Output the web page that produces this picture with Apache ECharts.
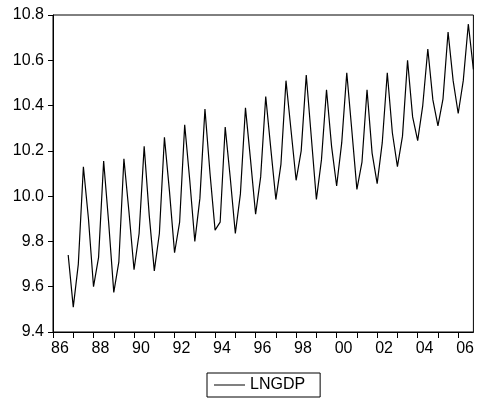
<!DOCTYPE html>
<html>
<head>
	<title>LNGDP</title>
	<meta charset="utf-8" />
	<script type="text/javascript" src="https://cdn.jsdelivr.net/npm/echarts@6/dist/echarts.min.js"></script>
	<style type="text/css">
		html, body{
			margin: 0;
			padding: 0;
			background-color: #fff;
		}
		#container{
			width: 477px;
			height: 405px;
		}
	</style>
</head>
<body>
<div id="container"></div>
</body>

<script type="text/javascript">
	// 季度: 1986Q1 .. 2006Q4, 数据从 1986Q4 开始
	var years = [1986, 1987, 1988, 1989, 1990, 1991, 1992, 1993, 1994, 1995, 1996,
		1997, 1998, 1999, 2000, 2001, 2002, 2003, 2004, 2005, 2006];
	var firstObs = 3;		// 1986Q4

	var lngdp = [
		9.74,
		9.51, 9.70, 10.13, 9.90,
		9.60, 9.73, 10.155, 9.88,
		9.575, 9.71, 10.165, 9.93,
		9.675, 9.835, 10.22, 9.915,
		9.67, 9.835, 10.26, 10.02,
		9.75, 9.885, 10.315, 10.07,
		9.80, 9.99, 10.385, 10.10,
		9.85, 9.885, 10.305, 10.08,
		9.835, 10.01, 10.39, 10.16,
		9.92, 10.085, 10.44, 10.21,
		9.985, 10.14, 10.51, 10.29,
		10.07, 10.20, 10.535, 10.26,
		9.985, 10.16, 10.47, 10.22,
		10.045, 10.235, 10.545, 10.29,
		10.03, 10.15, 10.47, 10.19,
		10.055, 10.235, 10.545, 10.28,
		10.13, 10.265, 10.60, 10.35,
		10.245, 10.40, 10.65, 10.425,
		10.31, 10.43, 10.725, 10.51,
		10.365, 10.51, 10.76, 10.56
	];

	var quarters = [];
	for(var i = 0 ; i < years.length ; i++){
		for(var q = 1 ; q <= 4 ; q++){
			quarters.push(years[i] + 'Q' + q);
		}
	}

	var seriesData = [];
	for(var j = 0 ; j < quarters.length ; j++){
		var k = j - firstObs;
		seriesData.push(k >= 0 && k < lngdp.length ? lngdp[k] : '-');
	}

	var font = 'Liberation Sans, Arial, sans-serif';

	var chart = echarts.init(document.getElementById("container"));

	var options = {
		backgroundColor:'#fff',
		animation:false,

		grid:{
			left:53,
			top:15,
			right:2,
			bottom:73,
			show:true,
			borderColor:'#000',
			borderWidth:1
		},

		legend:{
			data:['LNGDP'],
			left:207,
			top:373,
			padding:[4, 15, 4, 7],
			borderColor:'#000',
			borderWidth:1,
			icon:'rect',
			itemWidth:31,
			itemHeight:1,
			itemStyle:{color:'#000'},
			textStyle:{
				color:'#000',
				fontSize:16,
				fontFamily:font
			}
		},

		xAxis:{
			type:'category',
			data:quarters,
			boundaryGap:false,
			axisLine:{lineStyle:{color:'#000', width:1}},
			axisTick:{
				length:6,
				lineStyle:{color:'#000'},
				interval:function(idx){ return idx % 4 === 0; }
			},
			axisLabel:{
				color:'#000',
				fontSize:16,
				fontFamily:font,
				align:'left',
				margin:9,
				padding:[0, 0, 0, -2],
				interval:function(idx){ return idx % 8 === 0; },
				formatter:function(v){ return v.substr(2, 2); }
			},
			splitLine:{show:false}
		},

		yAxis:{
			type:'value',
			min:9.4,
			max:10.8,
			interval:0.2,
			axisLine:{show:true, lineStyle:{color:'#000', width:1}},
			axisTick:{show:true, length:5, lineStyle:{color:'#000'}},
			axisLabel:{
				color:'#000',
				fontSize:16,
				fontFamily:font,
				margin:9,
				formatter:function(v){ return v.toFixed(1); }
			},
			splitLine:{show:false}
		},

		series:[
			{
				name:'LNGDP',
				type:'line',
				data:seriesData,
				symbol:'none',
				connectNulls:false,
				lineStyle:{color:'#000', width:1.2},
				itemStyle:{color:'#000'}
			}
		]
	};

	chart.setOption(options);
</script>

</html>
